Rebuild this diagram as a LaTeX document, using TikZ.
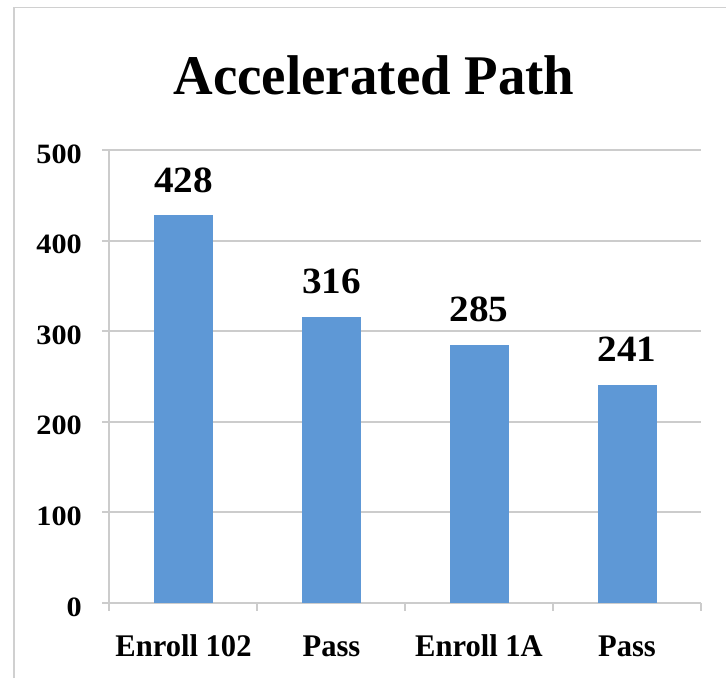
\documentclass[tikz,border=0pt]{standalone}
\usepackage{fontspec}
\setmainfont{Liberation Serif}
\definecolor{barblue}{RGB}{94,152,214}
\definecolor{gridgray}{RGB}{204,204,204}
\definecolor{framegray}{RGB}{208,208,208}
\tikzset{
  titletext/.style={anchor=base, inner sep=0pt, font=\fontsize{56}{60}\selectfont\bfseries},
  valtext/.style={anchor=base, inner sep=0pt, font=\fontsize{37}{40}\selectfont\bfseries},
  axtext/.style={anchor=base east, inner sep=0pt, font=\fontsize{28}{30}\selectfont\bfseries},
  cattext/.style={anchor=base, inner sep=0pt, font=\fontsize{31.5}{34}\selectfont\bfseries},
  barnode/.style={anchor=south, fill=barblue, draw=none, minimum width=59pt, inner sep=0pt, outer sep=0pt},
  gridline/.style={draw=gridgray, line width=2pt},
}
\begin{document}
\begin{tikzpicture}[x=1pt,y=-1pt]
\useasboundingbox (0,0) rectangle (726,678);
\fill[white] (0,0) rectangle (726,678);
% outer frame
\draw[framegray, line width=1.5pt] (14,678) -- (14,7.5) -- (726,7.5);
% title
\node[titletext] (title) at (374,94) {\scalebox{0.98}[1]{Accelerated Path}};
% gridlines
\foreach \v in {100,200,300,400,500} {
  \draw[gridline] (102,{603-0.906*\v}) -- (701,{603-0.906*\v});
}
% axes
\draw[gridline] (109,150) -- (109,611);
\draw[gridline] (102,603) -- (701,603);
\foreach \x in {257,405,553,701} { \draw[gridline] (\x,603) -- (\x,611); }
% axis labels
\foreach \v/\n in {0/a0,100/a1,200/a2,300/a3,400/a4,500/a5} {
  \node[axtext] (\n) at (82,{603-0.906*\v+13}) {\scalebox{1.08}[1]{\v}};
}
% bars
\node[barnode, minimum height=387.8pt] (b1) at (183.5,603) {};
\node[barnode, minimum height=286.3pt] (b2) at (331.5,603) {};
\node[barnode, minimum height=258.2pt] (b3) at (479,603) {};
\node[barnode, minimum height=218.3pt] (b4) at (627,603) {};
% value labels
\node[valtext] (v1) at (183.5,192.2) {\scalebox{1.06}[1]{428}};
\node[valtext] (v2) at (331.5,293.7) {\scalebox{1.06}[1]{316}};
\node[valtext] (v3) at (479,321.8) {\scalebox{1.06}[1]{285}};
\node[valtext] (v4) at (627,361.7) {\scalebox{1.06}[1]{241}};
% category labels
\node[cattext] (c1) at (183.5,656) {\scalebox{0.97}[1]{Enroll 102}};
\node[cattext] (c2) at (331.5,656) {\scalebox{0.97}[1]{Pass}};
\node[cattext] (c3) at (479,656) {\scalebox{0.97}[1]{Enroll 1A}};
\node[cattext] (c4) at (627,656) {\scalebox{0.97}[1]{Pass}};
\end{tikzpicture}
\end{document}
